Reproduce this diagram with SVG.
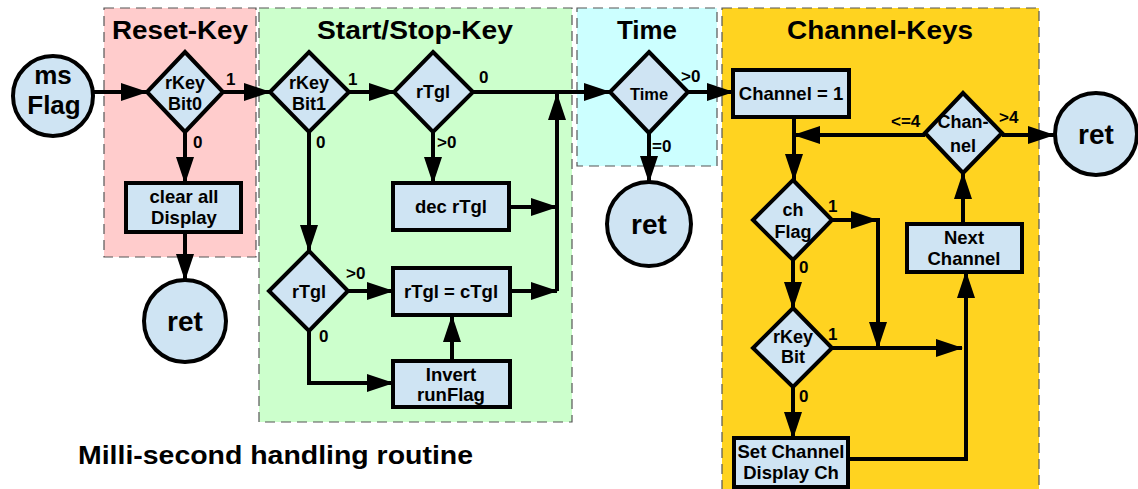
<svg xmlns="http://www.w3.org/2000/svg" width="1138" height="489" viewBox="0 0 1138 489">
<style>
.region{stroke:#555;stroke-width:1.2;stroke-dasharray:10 6}
.node{fill:#cfe4f3;stroke:#000;stroke-width:4}
.t{font-family:"Liberation Sans",Arial,sans-serif;font-weight:bold;fill:#000;text-anchor:middle}
.title{font-size:26px}
.box{font-size:18.5px}
.dia{font-size:18px}
.lbl{font-size:17px;text-anchor:start}
.big{font-size:26px}
.ret{font-size:28px}
.c{fill:none;stroke:#000;stroke-width:4}
</style>
<defs>
<marker id="ah" viewBox="0 0 27 18" refX="26" refY="9" markerWidth="27" markerHeight="18" markerUnits="userSpaceOnUse" orient="auto">
<path d="M0,0 L27,9 L0,18 z" fill="#000"/>
</marker>
</defs>
<rect width="1138" height="489" fill="#fff"/>
<g id="regions">
<rect class="region" x="104" y="8" width="152" height="249" fill="#ffcccc"/>
<rect class="region" x="259" y="8" width="313" height="414" fill="#ccffcc"/>
<rect class="region" x="577" y="8" width="140" height="158" fill="#ccffff"/>
<rect class="region" x="722" y="8" width="317" height="484" fill="#ffd320"/>
<text class="t title" x="180" y="39" textLength="136" lengthAdjust="spacingAndGlyphs">Reset-Key</text>
<text class="t title" x="415" y="39" textLength="196" lengthAdjust="spacingAndGlyphs">Start/Stop-Key</text>
<text class="t title" x="647" y="39" textLength="60" lengthAdjust="spacingAndGlyphs">Time</text>
<text class="t title" x="880" y="39" textLength="186" lengthAdjust="spacingAndGlyphs">Channel-Keys</text>
</g>
<g id="connectors" marker-end="url(#ah)">
<path class="c" d="M94,92 H147"/>
<path class="c" d="M223,92 H270"/>
<path class="c" d="M185,132 V183"/>
<path class="c" d="M185,232 V280"/>
<path class="c" d="M349,92 H395"/>
<path class="c" d="M473,92 H610"/>
<path class="c" d="M433,132 V183"/>
<path class="c" d="M509,207 H557"/>
<path class="c" d="M309,132 V251"/>
<path class="c" d="M348,291 H393"/>
<path class="c" d="M510,291 H557"/>
<path class="c" d="M557,291 V94"/>
<path class="c" d="M309,331 V383 H393"/>
<path class="c" d="M452,361 V316"/>
<path class="c" d="M688,92 H733"/>
<path class="c" d="M649,133 V182"/>
<path class="c" d="M794,117 V180"/>
<path class="c" d="M925,135 H794"/>
<path class="c" d="M1002,135 H1054"/>
<path class="c" d="M832,220 H877"/>
<path class="c" d="M878,218 V348"/>
<path class="c" d="M793,260 V308"/>
<path class="c" d="M832,348 H962"/>
<path class="c" d="M793,387 V438"/>
<path class="c" d="M848,459 H966 V272"/>
<path class="c" d="M963,224 V173"/>
</g>
<g id="labels">
<text class="t lbl" x="226" y="85">1</text>
<text class="t lbl" x="193" y="148">0</text>
<text class="t lbl" x="348" y="85">1</text>
<text class="t lbl" x="316" y="148">0</text>
<text class="t lbl" x="479" y="83">0</text>
<text class="t lbl" x="437" y="148">&gt;0</text>
<text class="t lbl" x="346" y="279">&gt;0</text>
<text class="t lbl" x="319" y="342">0</text>
<text class="t lbl" x="681" y="82">&gt;0</text>
<text class="t lbl" x="652" y="152">=0</text>
<text class="t lbl" x="891" y="127">&lt;=4</text>
<text class="t lbl" x="999" y="123">&gt;4</text>
<text class="t lbl" x="828" y="212">1</text>
<text class="t lbl" x="799" y="273">0</text>
<text class="t lbl" x="828" y="340">1</text>
<text class="t lbl" x="799" y="402">0</text>
</g>
<g id="msFlag">
<circle class="node" cx="53" cy="96" r="40"/>
<text class="t big" x="53" y="84">ms</text>
<text class="t big" x="54" y="114">Flag</text>
</g>
<g id="rKeyBit0">
<path class="node" d="M185,52 L223,92 L185,132 L147,92 Z"/>
<text class="t dia" x="185" y="89">rKey</text>
<text class="t dia" x="185" y="110">Bit0</text>
</g>
<g id="clearAll">
<rect class="node" x="126" y="183" width="115" height="49"/>
<text class="t box" x="184" y="203">clear all</text>
<text class="t box" x="184" y="224">Display</text>
</g>
<g id="ret1">
<circle class="node" cx="185" cy="321" r="41"/>
<text class="t ret" x="185" y="331">ret</text>
</g>
<g id="rKeyBit1">
<path class="node" d="M309,52 L349,92 L309,132 L270,92 Z"/>
<text class="t dia" x="309" y="89">rKey</text>
<text class="t dia" x="309" y="110">Bit1</text>
</g>
<g id="rTgl1">
<path class="node" d="M433,52 L473,92 L433,132 L394,92 Z"/>
<text class="t dia" x="433" y="98">rTgl</text>
</g>
<g id="decRTgl">
<rect class="node" x="393" y="183" width="116" height="47"/>
<text class="t box" x="451" y="213">dec rTgl</text>
</g>
<g id="rTgl2">
<path class="node" d="M309,251 L348,291 L309,331 L269,291 Z"/>
<text class="t dia" x="309" y="298">rTgl</text>
</g>
<g id="rTglEqCTgl">
<rect class="node" x="393" y="268" width="117" height="47"/>
<text class="t box" x="451" y="298">rTgl = cTgl</text>
</g>
<g id="invertRunFlag">
<rect class="node" x="393" y="361" width="117" height="46"/>
<text class="t box" x="451" y="381">Invert</text>
<text class="t box" x="451" y="401">runFlag</text>
</g>
<g id="time">
<path class="node" d="M649,52 L688,92 L649,133 L610,92 Z"/>
<text class="t" style="font-size:16.5px" x="649" y="100">Time</text>
</g>
<g id="ret2">
<circle class="node" cx="649" cy="224" r="42"/>
<text class="t ret" x="649" y="234">ret</text>
</g>
<g id="channel1">
<rect class="node" x="733" y="70" width="116" height="47"/>
<text class="t box" x="791" y="100">Channel = 1</text>
</g>
<g id="chanNel">
<path class="node" d="M963,93 L1002,133 L963,173 L925,133 Z"/>
<text class="t dia" x="963" y="128">Chan-</text>
<text class="t dia" x="963" y="152">nel</text>
</g>
<g id="ret3">
<circle class="node" cx="1096" cy="134" r="41"/>
<text class="t ret" x="1096" y="144">ret</text>
</g>
<g id="chFlag">
<path class="node" d="M793,180 L832,220 L793,260 L753,220 Z"/>
<text class="t dia" x="793" y="216">ch</text>
<text class="t dia" x="793" y="238">Flag</text>
</g>
<g id="rKeyBit">
<path class="node" d="M793,308 L832,348 L793,387 L753,348 Z"/>
<text class="t dia" x="793" y="343">rKey</text>
<text class="t dia" x="793" y="363">Bit</text>
</g>
<g id="setChannel">
<rect class="node" x="734" y="438" width="114" height="49"/>
<text class="t box" x="791" y="458">Set Channel</text>
<text class="t box" x="791" y="479">Display Ch</text>
</g>
<g id="nextChannel">
<rect class="node" x="907" y="224" width="115" height="48"/>
<text class="t box" x="964" y="244">Next</text>
<text class="t box" x="964" y="265">Channel</text>
</g>
<text class="t" style="font-size:25px;text-anchor:start" x="78" y="464" textLength="395" lengthAdjust="spacingAndGlyphs">Milli-second handling routine</text>
</svg>
